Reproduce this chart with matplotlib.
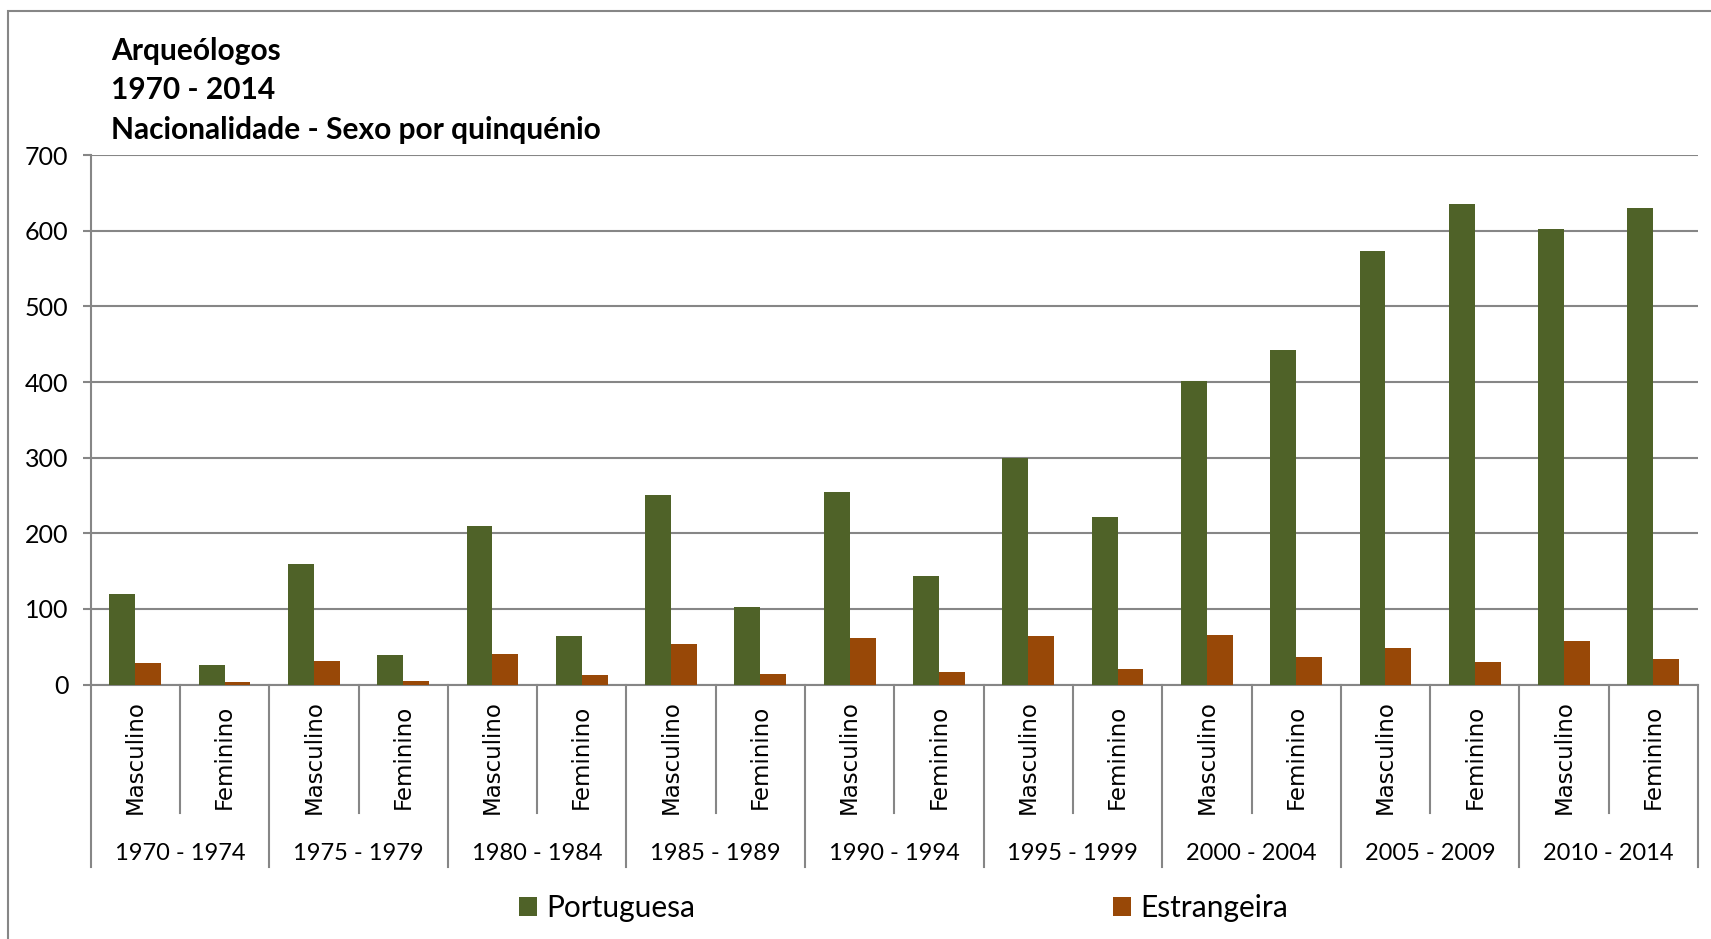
import numpy as np
import matplotlib
matplotlib.use("Agg")
import matplotlib.pyplot as plt
from matplotlib.patches import Rectangle
from matplotlib.transforms import blended_transform_factory

# dados (arqueólogos por quinquénio, sexo e nacionalidade)
periodos = ["1970 - 1974", "1975 - 1979", "1980 - 1984", "1985 - 1989", "1990 - 1994",
            "1995 - 1999", "2000 - 2004", "2005 - 2009", "2010 - 2014"]
sexos = ["Masculino", "Feminino"]
portuguesa = [120, 26, 159, 39, 209, 64, 251, 102, 254, 144, 299, 222, 401, 442, 573, 635, 603, 630]
estrangeira = [29, 3, 31, 5, 41, 12, 53, 14, 62, 17, 64, 21, 66, 36, 48, 30, 57, 34]

verde = "#4F6228"
laranja = "#984807"
cinza = "#868686"
fonte = ["Lato", "DejaVu Sans"]

W, H = 1711, 939
fig = plt.figure(figsize=(W / 100, H / 100), dpi=100)
ax = fig.add_axes([90.6 / W, 1 - 684.5 / H, (1698 - 90.6) / W, (684.5 - 155.3) / H])

x = np.arange(len(portuguesa))
larg = 0.29
b1 = ax.bar(x - larg / 2, portuguesa, larg, color=verde, label="Portuguesa", zorder=3)
b2 = ax.bar(x + larg / 2, estrangeira, larg, color=laranja, label="Estrangeira", zorder=3)

ax.set_xlim(-0.5, len(x) - 0.5)
ax.set_ylim(0, 700)
ax.set_yticks(range(0, 701, 100))
ax.yaxis.grid(True, color=cinza, linewidth=1.5)
ax.set_axisbelow(True)
ax.set_xticks([])
for s in ["top", "right"]:
    ax.spines[s].set_visible(False)
for s in ["left", "bottom"]:
    ax.spines[s].set_color(cinza)
    ax.spines[s].set_linewidth(1.5)
ax.tick_params(axis="y", colors=cinza, length=6, width=1.5, labelcolor="black", labelsize=18, pad=10)
for t in ax.get_yticklabels():
    t.set_family(fonte)

# eixo de categorias em dois níveis
tr = blended_transform_factory(ax.transData, ax.transAxes)
alt_int = -(813 - 684.5) / (684.5 - 155.3)
alt_ext = -(867 - 684.5) / (684.5 - 155.3)
for i in range(len(x) + 1):
    xb = i - 0.5
    y1 = alt_ext if i % 2 == 0 else alt_int
    ax.plot([xb, xb], [0, y1], color=cinza, lw=1.5, transform=tr, clip_on=False)
for i in range(len(x)):
    ax.text(i, -(757 - 684.5) / (684.5 - 155.3), sexos[i % 2], rotation=90, ha="center", va="center",
            fontsize=16.5, family="DejaVu Sans", transform=tr)
for j, p in enumerate(periodos):
    ax.text(2 * j + 0.5, -(853 - 684.5) / (684.5 - 155.3), p, ha="center", va="center",
            fontsize=17, family=fonte, transform=tr)

# título
titulo = ["Arqueólogos", "1970 - 2014", "Nacionalidade - Sexo por quinquénio"]
for k, linha in enumerate(titulo):
    fig.text(111 / W, 1 - (51 + 39.3 * k) / H, linha, ha="left", va="center",
             fontsize=21.5, fontweight="bold", family=fonte)

# legenda
for h, xl in [(b1, 519), (b2, 1113)]:
    fig.legend(handles=[h], loc="center left", bbox_to_anchor=(xl / W, 1 - 908 / H), frameon=False,
               borderpad=0, borderaxespad=0, handlelength=0.6, handleheight=0.6, handletextpad=0.3,
               prop={"family": fonte, "size": 21.5})

# moldura do gráfico
fig.patches.append(Rectangle((8 / W, -0.1), 1.2, 1.1 - 11 / H, transform=fig.transFigure,
                             fill=False, edgecolor=cinza, linewidth=1.5))

fig.savefig("out.png", dpi=100)
